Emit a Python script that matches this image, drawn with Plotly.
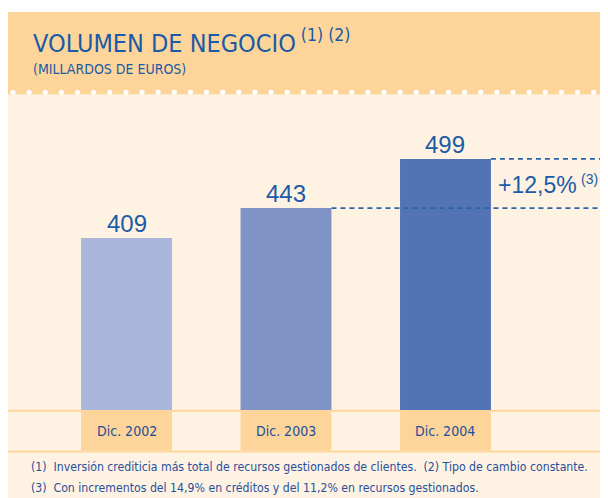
import plotly.graph_objects as go

# ---- data ----
categories = ["Dic. 2002", "Dic. 2003", "Dic. 2004"]
values = [409, 443, 499]
bar_colors = ["#AAB7DB", "#7F93C6", "#5273B4"]
growth_label = "+12,5%"
growth_note = "(3)"
title = "VOLUMEN DE NEGOCIO"
title_notes = "(1) (2)"
subtitle = "(MILLARDOS DE EUROS)"
footnotes = [
    "(1)\u00a0\u00a0Inversión crediticia más total de recursos gestionados de clientes.\u00a0\u00a0(2) Tipo de cambio constante.",
    "(3)\u00a0\u00a0Con incrementos del 14,9% en créditos y del 11,2% en recursos gestionados.",
]

# ---- styling ----
OFF = 8                      # page body margin offset
W, H = 600, 490
L, T, B = 8 - OFF, 95 - OFF, 410 - OFF   # plot area pixel edges (figure coords)
PW, PH = W - L, B - T
ORANGE = "#FDD59B"
CREAM = "#FEF2E3"
BLUE = "#1C5BA7"
NARROW = "Liberation Sans Narrow, Arial Narrow, DejaVu Sans Condensed, sans-serif"
SANS = "Liberation Sans, Arial, sans-serif"
BAR_W = 0.57
X_RANGE = [-0.743, 3.019]
Y_RANGE = [213, 571.8]


def pxx(px):
    """reference-page x pixel -> paper x"""
    return (px - OFF - L) / PW


def pyy(py):
    """reference-page y pixel -> paper y"""
    return (B - (py - OFF)) / PH


fig = go.Figure()
fig.add_trace(go.Bar(
    x=categories, y=values, width=BAR_W,
    marker=dict(color=bar_colors, line=dict(width=0)),
    hoverinfo="skip",
))

shapes = []
# backgrounds
shapes.append(dict(type="rect", xref="paper", yref="paper", x0=0, x1=1,
                   y0=pyy(H + OFF + 20), y1=pyy(94.5), fillcolor=CREAM, line_width=0, layer="below"))
shapes.append(dict(type="rect", xref="paper", yref="paper", x0=0, x1=1,
                   y0=pyy(94.5), y1=pyy(12), fillcolor=ORANGE, line_width=0, layer="below"))
# dots under header
x = 13.0
while x < W + OFF - 2:
    shapes.append(dict(type="circle", xref="paper", yref="paper", xsizemode="pixel",
                       ysizemode="pixel", xanchor=pxx(x), yanchor=pyy(92.3),
                       x0=-2.6, x1=2.6, y0=-2.6, y1=2.6,
                       fillcolor="white", line_width=0, layer="below"))
    x += 16.13
# category boxes
for i, c in enumerate(categories):
    shapes.append(dict(type="rect", xref="x", yref="paper", x0=i - BAR_W / 2, x1=i + BAR_W / 2,
                       y0=pyy(450.5), y1=pyy(411), fillcolor=ORANGE, line_width=0, layer="below"))
# horizontal orange rules
for py in (410.7, 451.5):
    shapes.append(dict(type="line", xref="paper", yref="paper", x0=0, x1=1,
                       y0=pyy(py), y1=pyy(py), line=dict(color=ORANGE, width=2), layer="below"))
# dashed reference lines
shapes.append(dict(type="line", xref="x", yref="y", x0=1 + BAR_W / 2, x1=X_RANGE[1],
                   y0=values[1], y1=values[1], line=dict(color="#2A63A8", width=1.6, dash="5px,4px"),
                   layer="above"))
shapes.append(dict(type="line", xref="x", yref="y", x0=2 + BAR_W / 2, x1=X_RANGE[1],
                   y0=values[2], y1=values[2], line=dict(color="#2A63A8", width=1.6, dash="5px,4px"),
                   layer="above"))

annotations = []
# value labels
for c, v in zip(categories, values):
    annotations.append(dict(x=c, y=v, xref="x", yref="y", text=str(v), showarrow=False,
                            yanchor="bottom", yshift=-1,
                            font=dict(family=SANS, size=24, color=BLUE)))
# category labels
for c in categories:
    annotations.append(dict(x=c, y=pyy(430.5), xref="x", yref="paper", text=c, showarrow=False,
                            yanchor="middle", font=dict(family=NARROW, size=14, color="#1B4F9B")))
# growth label
annotations.append(dict(x=pxx(496), y=(values[1] + values[2]) / 2, xref="paper", yref="y",
                        text=growth_label, showarrow=False,
                        xanchor="left", yanchor="middle", yshift=-2,
                        font=dict(family=SANS, size=23, color=BLUE)))
annotations.append(dict(x=pxx(579), y=(values[1] + values[2]) / 2, xref="paper", yref="y",
                        text=growth_note, showarrow=False,
                        xanchor="left", yanchor="middle", yshift=4,
                        font=dict(family=SANS, size=14, color=BLUE)))
# title and subtitle
annotations.append(dict(x=pxx(31), y=pyy(42), xref="paper", yref="paper",
                        text=title + "<sup> " + title_notes + "</sup>", showarrow=False,
                        xanchor="left", yanchor="middle",
                        font=dict(family=NARROW, size=25, color="#1A5AA6")))
annotations.append(dict(x=pxx(31), y=pyy(69), xref="paper", yref="paper",
                        text=subtitle, showarrow=False, xanchor="left", yanchor="middle",
                        font=dict(family=NARROW, size=14, color="#1A5AA6")))
# footnotes
for i, f in enumerate(footnotes):
    annotations.append(dict(x=pxx(29), y=pyy(467 + 20.5 * i), xref="paper", yref="paper",
                            text=f, showarrow=False, xanchor="left", yanchor="middle",
                            font=dict(family=NARROW, size=12.2, color="#27509C")))

fig.update_layout(
    width=W, height=H,
    margin=dict(l=L, r=0, t=T, b=H - B, pad=0),
    paper_bgcolor="white", plot_bgcolor="rgba(0,0,0,0)",
    showlegend=False,
    xaxis=dict(range=X_RANGE, showticklabels=False, showgrid=False, zeroline=False,
               showline=False, ticks="", fixedrange=True),
    yaxis=dict(range=Y_RANGE, showticklabels=False, showgrid=False, zeroline=False,
               showline=False, ticks="", fixedrange=True),
    shapes=shapes, annotations=annotations,
)
fig.write_html("out.html")
